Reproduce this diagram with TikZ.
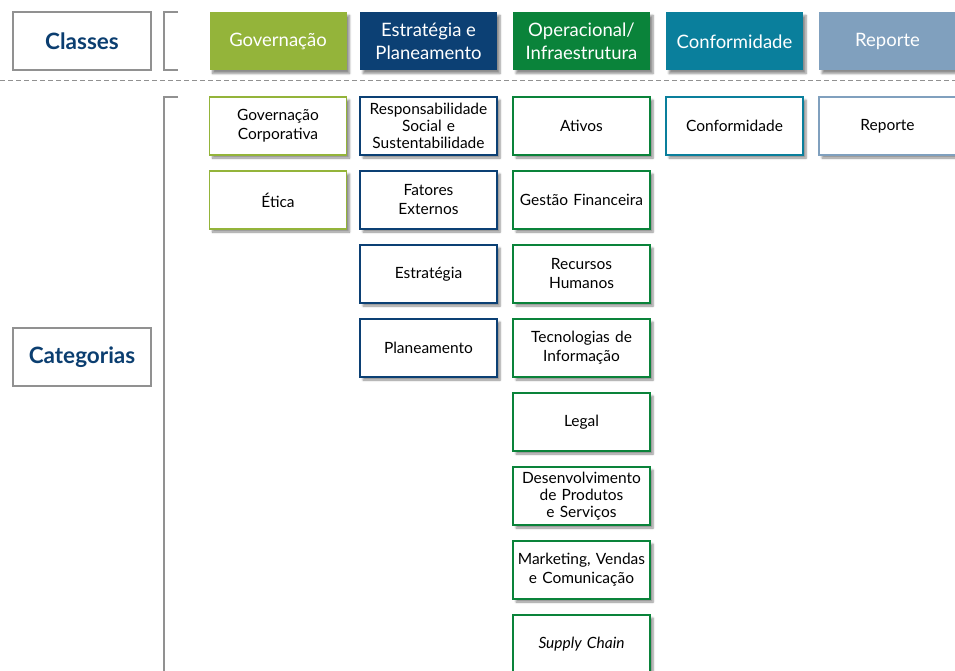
\documentclass[tikz,border=0pt]{standalone}
\usepackage{fontspec}
\setmainfont{Lato}
\definecolor{govgreen}{RGB}{148,180,58}
\definecolor{estblue}{RGB}{12,64,116}
\definecolor{opgreen}{RGB}{10,131,58}
\definecolor{confteal}{RGB}{10,127,156}
\definecolor{repgray}{RGB}{128,160,190}
\definecolor{titleblue}{RGB}{11,62,112}
\definecolor{framegray}{RGB}{145,145,145}
\usetikzlibrary{positioning, shadows, shadows.blur}

\tikzset{
  boxshadow/.style={blur shadow={shadow xshift=3pt, shadow yshift=-3pt, shadow blur steps=6, shadow opacity=45}},
  classbox/.style={fill=#1, text=white, minimum width=137pt, minimum height=58pt, inner sep=2pt,
    align=center, font=\fontsize{18.5}{22.5}\selectfont, boxshadow},
  catbox/.style={draw=#1, fill=white, line width=1.8pt, minimum width=137pt, minimum height=58pt,
    inner sep=1pt, text width=134pt, align=center, font=\fontsize{15.5}{19}\selectfont, boxshadow},
  labelbox/.style={draw=framegray, line width=1.8pt, minimum width=138pt, minimum height=58pt,
    text=titleblue, font=\bfseries\fontsize{22.5}{26}\selectfont},
  bracket/.style={draw=framegray, line width=1.3pt}
}

\begin{document}
\begin{tikzpicture}[x=1pt, y=-1pt]
  \useasboundingbox (0,0) rectangle (955,671);

  % left labels and brackets
  \node[labelbox] (classes) at (82,41) {Classes};
  \node[labelbox] (categorias) at (82,357) {Categorias};
  \draw[bracket] (178,12) -- (164,12) -- (164,70) -- (178,70);
  \draw[bracket] (178,97) -- (164,97) -- (164,680);

  % separator
  \draw[framegray, line width=1pt, dash pattern=on 5pt off 3pt] (0,81) -- (955,81);

  % classes
  \node[classbox=govgreen] (gov) at (278,41.5) {Governação};
  \node[classbox=estblue] (est) at (428.5,41.5) {Estratégia e\\Planeamento};
  \node[classbox=opgreen] (op) at (581.5,41.5) {Operacional/\\Infraestrutura};
  \node[classbox=confteal] (conf) at (734.5,41.5) {Conformidade};
  \node[classbox=repgray] (rep) at (887.5,41.5) {Reporte};

  % Governacao
  \node[catbox=govgreen] (govcorp) at (278,126) {Governação\\Corporativa};
  \node[catbox=govgreen, below=14.2pt of govcorp] (etica) {Ética};

  % Estrategia e Planeamento
  \node[catbox=estblue] (resp) at (428.5,126) {Responsabilidade\\[-2pt]Social e\\[-2pt]Sustentabilidade};
  \node[catbox=estblue, below=14.2pt of resp] (fatores) {Fatores\\Externos};
  \node[catbox=estblue, below=14.2pt of fatores] (estrat) {Estratégia};
  \node[catbox=estblue, below=14.2pt of estrat] (plan) {Planeamento};

  % Operacional/Infraestrutura
  \node[catbox=opgreen] (ativos) at (581.5,126) {Ativos};
  \node[catbox=opgreen, below=14.2pt of ativos] (gestfin) {Gestão Financeira};
  \node[catbox=opgreen, below=14.2pt of gestfin] (rh) {Recursos\\Humanos};
  \node[catbox=opgreen, below=14.2pt of rh] (ti) {Tecnologias de\\Informação};
  \node[catbox=opgreen, below=14.2pt of ti] (legal) {Legal};
  \node[catbox=opgreen, below=14.2pt of legal] (desenv) {Desenvolvimento\\[-2pt]de Produtos\\[-2pt]e Serviços};
  \node[catbox=opgreen, below=14.2pt of desenv] (mkt) {Marketing, Vendas\\e Comunicação};
  \node[catbox=opgreen, below=14.2pt of mkt] (supply) {\itshape Supply Chain};

  % Conformidade e Reporte
  \node[catbox=confteal] (confcat) at (734.5,126) {Conformidade};
  \node[catbox=repgray] (repcat) at (887.5,126) {Reporte};
\end{tikzpicture}
\end{document}
